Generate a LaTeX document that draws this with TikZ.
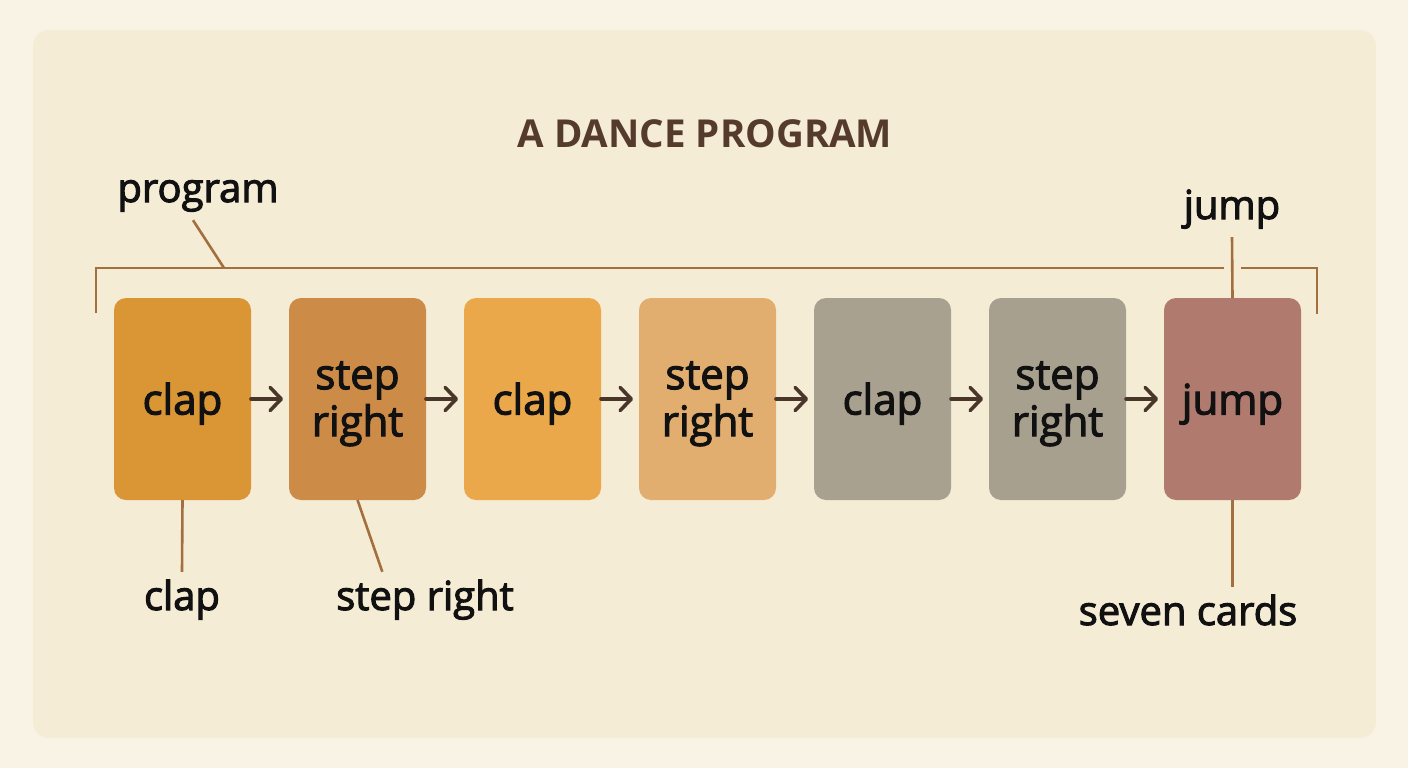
\documentclass[tikz,border=0pt]{standalone}
\usepackage{fontspec}
\setmainfont{Open Sans}
\newfontfamily\medfont{Open Sans}[FakeBold=2.6]
\usetikzlibrary{arrows.meta}
\usetikzlibrary{positioning}
\usetikzlibrary{calc}

\definecolor{pagebg}{HTML}{F9F3E6}
\definecolor{panelbg}{HTML}{F5ECD5}
\definecolor{titlebrown}{HTML}{553B2B}
\definecolor{linebrown}{HTML}{A46F3E}
\definecolor{arrowbrown}{HTML}{4A3629}
\definecolor{inkdark}{HTML}{111111}
\definecolor{cardA}{HTML}{DA9535}
\definecolor{cardB}{HTML}{CC8C48}
\definecolor{cardC}{HTML}{EBA84B}
\definecolor{cardD}{HTML}{E2AE6F}
\definecolor{cardE}{HTML}{A9A18F}
\definecolor{cardF}{HTML}{A8A08E}
\definecolor{cardG}{HTML}{B07A6E}

\tikzset{
  card/.style={rectangle,rounded corners=12pt,minimum width=137pt,minimum height=202pt,
    inner sep=0pt,outer sep=0pt,align=center,text=inkdark,font=\medfont\fontsize{42}{47}\selectfont},
  oneline/.style={text height=31pt,text depth=0pt},
  lbl/.style={anchor=base,inner sep=8pt,text=inkdark,text height=30pt,text depth=10pt,
    font=\medfont\fontsize{40}{46}\selectfont},
  flow/.style={->,>={Straight Barb[length=11pt,width=23pt,line cap=round,line join=round]},line width=3.6pt,
    arrowbrown,shorten >=6pt,line cap=round},
  leader/.style={linebrown,line width=2.6pt},
}

\begin{document}
\begin{tikzpicture}[x=1pt,y=-1pt]
  \useasboundingbox (0,0) rectangle (1408,768);
  \fill[pagebg] (0,0) rectangle (1408,768);
  \fill[panelbg,rounded corners=16pt] (33,30) rectangle (1376,738);

  \node[anchor=base,text=titlebrown,font=\fontsize{38.5}{40}\selectfont\bfseries] (title) at (705,147) {A DANCE PROGRAM};

  % the seven cards
  \node[card,oneline,fill=cardA] (c1) at (182.5,399) {clap};
  \node[card,fill=cardB,right=38pt of c1] (c2) {step\\ri\smash{g}ht};
  \node[card,oneline,fill=cardC,right=38pt of c2] (c3) {clap};
  \node[card,fill=cardD,right=38pt of c3] (c4) {step\\ri\smash{g}ht};
  \node[card,oneline,fill=cardE,right=38pt of c4] (c5) {clap};
  \node[card,fill=cardF,right=38pt of c5] (c6) {step\\ri\smash{g}ht};
  \node[card,oneline,fill=cardG,right=38pt of c6] (c7) {jump};

  \foreach \a/\b in {c1/c2,c2/c3,c3/c4,c4/c5,c5/c6,c6/c7}
    \draw[flow] (\a) -- (\b);

  % bracket over the program
  \coordinate (brkl) at (96,313);
  \coordinate (brkp) at (224,268);
  \coordinate (brkm) at (1224,268);
  \coordinate (brkn) at (1241,268);
  \coordinate (brkr) at (1317,314);
  \draw[leader] (brkl) |- (brkm);
  \draw[leader] (brkn) -| (brkr);

  % labels
  \node[lbl] (progl) at (198,202) {program};
  \node[lbl] (jumpl) at (1232,219) {jump};
  \node[lbl] (clapl) at (182,610) {clap};
  \node[lbl] (stepl) at (425,610) {step right};
  \node[lbl] (sevenl) at (1188,625) {seven cards};

  \draw[leader] ([xshift=-5pt]progl.south) -- (brkp);
  \draw[leader] (jumpl.south) -- (c7.north);
  \draw[leader] (c1.south) -- (clapl.north);
  \draw[leader] (c2.south) -- ($(stepl.north west)!0.28!(stepl.north east)$);
  \draw[leader] (c7.south) -- (c7.south |- sevenl.north);
\end{tikzpicture}
\end{document}
